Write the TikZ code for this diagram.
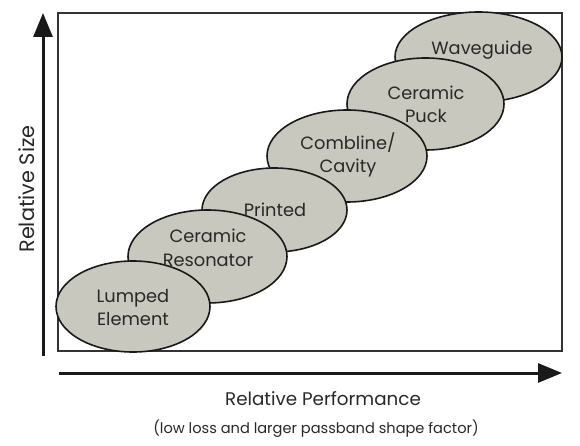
\documentclass[tikz,border=0pt]{standalone}
\usepackage{fontspec}
\setmainfont{Poppins}
\usepackage{tikz}
\usetikzlibrary{arrows.meta,positioning,calc,shapes.geometric}
\usepackage{xcolor}
\definecolor{fillgrey}{RGB}{200,200,190}
\definecolor{inkgrey}{RGB}{40,40,40}
\tikzset{
  fltnode/.style={draw=black!90, ellipse, fill=fillgrey, line width=1.6pt, inner sep=0pt},
  flttext/.style={align=center, text=inkgrey, font=\fontsize{17.8}{23.5}\selectfont},
  axarrow/.style={-{Triangle[length=24pt, width=19pt]}, line width=3pt, black!90},
  axlabel/.style={text=inkgrey, font=\fontsize{18.3}{21}\selectfont},
}
\begin{document}
\begin{tikzpicture}[x=1pt, y=-1pt]
  \useasboundingbox (0,0) rectangle (580,446);
  \draw[black!80, line width=1.3pt] (58,13) rectangle (562,351);

  \node[fltnode, minimum width=167pt, minimum height=90pt] (waveguide) at (478.5,57) {};
  \node[fltnode, minimum width=157pt, minimum height=92pt] (puck) at (425.5,104) {};
  \node[fltnode, minimum width=160pt, minimum height=92pt] (combline) at (347,156) {};
  \node[fltnode, minimum width=145pt, minimum height=84pt] (printed) at (274.5,210) {};
  \node[fltnode, minimum width=159pt, minimum height=93pt] (resonator) at (207.5,256.5) {};
  \node[fltnode, minimum width=154pt, minimum height=91pt] (lumped) at (133,306.5) {};

  \node[flttext] (waveguidetxt) at (482,50) {Waveguide};
  \node[flttext] (pucktxt) at (426,104.5) {Ceramic\\Puck};
  \node[flttext] (comblinetxt) at (348,155) {Combline/\\Cavity};
  \node[flttext] (printedtxt) at (275,210) {Printed};
  \node[flttext] (resonatortxt) at (208,248) {Ceramic\\Resonator};
  \node[flttext] (lumpedtxt) at (133,307.5) {Lumped\\Element};

  \coordinate (ybot) at (43,356);
  \coordinate (ytop) at (43,13);
  \coordinate (xleft) at (59,373);
  \coordinate (xright) at (562,373);
  \draw[axarrow] (ybot) -- (ytop);
  \draw[axarrow] (xleft) -- (xright);

  \node[axlabel, rotate=90, font=\fontsize{20.8}{24}\selectfont] (ysize) at (27,189) {Relative Size};
  \node[axlabel] (xperf) at (323,399) {Relative Performance};
  \node[axlabel, font=\fontsize{14.6}{18}\selectfont] (xnote) at (316,429)
    {(low loss and larger passband shape factor)};
\end{tikzpicture}
\end{document}
